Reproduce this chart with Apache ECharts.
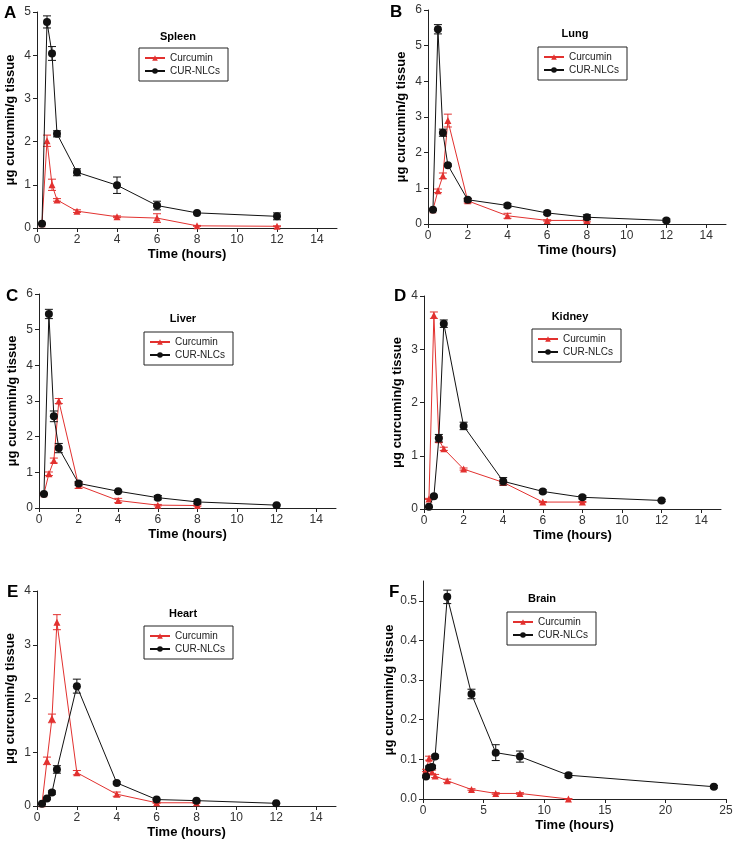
<!DOCTYPE html>
<html><head><meta charset="utf-8">
<script src="https://cdn.jsdelivr.net/npm/echarts@6/dist/echarts.min.js"></script>
<style>html,body{margin:0;padding:0;background:#fff}#c{width:736px;height:845px}</style>
</head><body><div id="c"></div>
<script>
// ---- data ----
const timeMain = [0.25, 0.5, 0.75, 1, 2, 4, 6, 8, 12];
const timeTo8 = [0.25, 0.5, 0.75, 1, 2, 4, 6, 8];
const timeBrainNlc = [0.25, 0.5, 0.75, 1, 2, 4, 6, 8, 12, 24];

const spleenCur = [0.10, 2.02, 1.00, 0.65, 0.39, 0.26, 0.23, 0.05, 0.04];
const spleenCurErr = [0.01, 0.13, 0.13, 0.03, 0.03, 0.02, 0.10, 0.01, 0.01];
const spleenNlc = [0.10, 4.77, 4.04, 2.18, 1.29, 0.99, 0.52, 0.35, 0.27];
const spleenNlcErr = [0.01, 0.14, 0.16, 0.07, 0.08, 0.19, 0.10, 0.02, 0.08];

const lungCur = [0.40, 0.93, 1.35, 2.90, 0.65, 0.23, 0.10, 0.10];
const lungCurErr = [0.02, 0.05, 0.08, 0.18, 0.06, 0.07, 0.02, 0.04];
const lungNlc = [0.40, 5.46, 2.56, 1.65, 0.68, 0.52, 0.31, 0.19, 0.10];
const lungNlcErr = [0.02, 0.13, 0.10, 0.03, 0.04, 0.05, 0.05, 0.07, 0.04];

const liverCur = [0.40, 0.96, 1.33, 3.00, 0.63, 0.21, 0.08, 0.07];
const liverCurErr = [0.02, 0.05, 0.07, 0.07, 0.08, 0.06, 0.02, 0.02];
const liverNlc = [0.39, 5.44, 2.57, 1.68, 0.69, 0.47, 0.29, 0.17, 0.08];
const liverNlcErr = [0.02, 0.13, 0.15, 0.13, 0.05, 0.03, 0.06, 0.05, 0.02];

const kidneyCur = [0.19, 3.64, 1.30, 1.13, 0.75, 0.50, 0.13, 0.13];
const kidneyCurErr = [0.01, 0.06, 0.05, 0.03, 0.02, 0.02, 0.01, 0.01];
const kidneyNlc = [0.04, 0.24, 1.33, 3.48, 1.56, 0.52, 0.33, 0.22, 0.16];
const kidneyNlcErr = [0.01, 0.02, 0.07, 0.07, 0.07, 0.07, 0.03, 0.03, 0.02];

const heartCur = [0.04, 0.84, 1.63, 3.42, 0.62, 0.22, 0.06, 0.06];
const heartCurErr = [0.01, 0.07, 0.08, 0.14, 0.04, 0.04, 0.01, 0.01];
const heartNlc = [0.04, 0.14, 0.25, 0.68, 2.23, 0.43, 0.12, 0.10, 0.05];
const heartNlcErr = [0.01, 0.02, 0.03, 0.07, 0.13, 0.02, 0.01, 0.01, 0.01];

const brainCur = [0.072, 0.103, 0.068, 0.058, 0.046, 0.024, 0.014, 0.014, 0.0];
const brainCurErr = [0.003, 0.005, 0.005, 0.004, 0.004, 0.002, 0.002, 0.002, 0.001];
const brainNlc = [0.057, 0.079, 0.081, 0.107, 0.510, 0.265, 0.117, 0.107, 0.060, 0.031];
const brainNlcErr = [0.003, 0.004, 0.004, 0.004, 0.017, 0.012, 0.020, 0.014, 0.005, 0.003];

const seriesNames = ['Curcumin', 'CUR-NLCs'];
const panelLetters = ['A', 'B', 'C', 'D', 'E', 'F'];
const organNames = ['Spleen', 'Lung', 'Liver', 'Kidney', 'Heart', 'Brain'];
const xLabel = 'Time (hours)';
const yLabel = 'μg curcumin/g tissue';

// ---- layout / style ----
const RED = '#e2312f', BLACK = '#111111';
const FONT = '"Liberation Sans", Arial, sans-serif';
const panels = [
  {grid:{left:37,top:12,width:300,height:216}, xMax:15, xInt:2, yMax:5, yInt:1, dec:0,
   cur:[timeMain, spleenCur, spleenCurErr], nlc:[timeMain, spleenNlc, spleenNlcErr],
   letter:[4,5], title:[178,31], legend:[139,48]},
  {grid:{left:428,top:10,width:298,height:214}, xMax:15, xInt:2, yMax:6, yInt:1, dec:0,
   cur:[timeTo8, lungCur, lungCurErr], nlc:[timeMain, lungNlc, lungNlcErr],
   letter:[390,4], title:[575,28], legend:[538,47]},
  {grid:{left:39,top:294,width:297,height:214}, xMax:15, xInt:2, yMax:6, yInt:1, dec:0,
   cur:[timeTo8, liverCur, liverCurErr], nlc:[timeMain, liverNlc, liverNlcErr],
   letter:[6,288], title:[183,313], legend:[144,332]},
  {grid:{left:424,top:296,width:297,height:213}, xMax:15, xInt:2, yMax:4, yInt:1, dec:0,
   cur:[timeTo8, kidneyCur, kidneyCurErr], nlc:[timeMain, kidneyNlc, kidneyNlcErr],
   letter:[394,288], title:[570,311], legend:[532,329]},
  {grid:{left:37,top:591,width:299,height:215}, xMax:15, xInt:2, yMax:4, yInt:1, dec:0,
   cur:[timeTo8, heartCur, heartCurErr], nlc:[timeMain, heartNlc, heartNlcErr],
   letter:[7,584], title:[183,608], legend:[144,626]},
  {grid:{left:423,top:581,width:303,height:218}, xMax:25, xInt:5, yMax:0.55, yInt:0.1, dec:1,
   cur:[timeMain, brainCur, brainCurErr], nlc:[timeBrainNlc, brainNlc, brainNlcErr],
   letter:[389,584], title:[542,593], legend:[507,612]}
];

function errRender(color) {
  return function (params, api) {
    const x = api.value(0), y = api.value(1), e = api.value(2);
    const top = api.coord([x, y + e]);
    const bot = api.coord([x, y - e]);
    const w = 4;
    const st = {stroke: color, lineWidth: 1};
    return {type: 'group', children: [
      {type: 'line', shape: {x1: top[0], y1: top[1], x2: bot[0], y2: bot[1]}, style: st},
      {type: 'line', shape: {x1: top[0] - w, y1: top[1], x2: top[0] + w, y2: top[1]}, style: st},
      {type: 'line', shape: {x1: bot[0] - w, y1: bot[1], x2: bot[0] + w, y2: bot[1]}, style: st}
    ]};
  };
}

const grid = [], xAxis = [], yAxis = [], series = [], title = [], legend = [];
panels.forEach((p, i) => {
  grid.push(p.grid);
  xAxis.push({type:'value', gridIndex:i, min:0, max:p.xMax, interval:p.xInt,
    name:xLabel, nameLocation:'middle', nameGap:20,
    nameTextStyle:{fontFamily:FONT, fontWeight:'bold', fontSize:13, color:'#000'},
    axisLine:{lineStyle:{color:'#222', width:1}}, axisTick:{length:4, lineStyle:{color:'#222'}},
    axisLabel:{fontFamily:FONT, fontSize:12, color:'#333', showMaxLabel:(p.xMax % p.xInt === 0), margin:6},
    splitLine:{show:false}});
  yAxis.push({type:'value', gridIndex:i, min:0, max:p.yMax, interval:p.yInt,
    name:yLabel, nameLocation:'middle', nameGap:20, nameRotate:90,
    nameTextStyle:{fontFamily:FONT, fontWeight:'bold', fontSize:13, color:'#000'},
    axisLine:{show:true, lineStyle:{color:'#222', width:1}}, axisTick:{show:true, length:4, lineStyle:{color:'#222'}},
    axisLabel:{fontFamily:FONT, fontSize:12, color:'#333', margin:6,
      showMaxLabel: p.dec === 0,
      formatter: v => v.toFixed(p.dec)},
    splitLine:{show:false}});
  const mk = (arr) => arr[0].map((t, k) => [t, arr[1][k], arr[2][k]]);
  const curData = mk(p.cur), nlcData = mk(p.nlc);
  series.push({type:'custom', name:'errCur'+i, xAxisIndex:i, yAxisIndex:i, renderItem:errRender(RED),
    data:curData, encode:{x:0, y:1}, z:2, silent:true});
  series.push({type:'line', name:seriesNames[0], xAxisIndex:i, yAxisIndex:i,
    data:curData.map(d => [d[0], d[1]]), symbol:'triangle', symbolSize:7,
    itemStyle:{color:RED}, lineStyle:{color:RED, width:1}, z:3, animation:false});
  series.push({type:'custom', name:'errNlc'+i, xAxisIndex:i, yAxisIndex:i, renderItem:errRender(BLACK),
    data:nlcData, encode:{x:0, y:1}, z:4, silent:true});
  series.push({type:'line', name:seriesNames[1], xAxisIndex:i, yAxisIndex:i,
    data:nlcData.map(d => [d[0], d[1]]), symbol:'circle', symbolSize:8,
    itemStyle:{color:BLACK}, lineStyle:{color:BLACK, width:1}, z:5, animation:false});
  title.push({text:panelLetters[i], left:p.letter[0], top:p.letter[1], padding:0,
    textStyle:{fontFamily:FONT, fontWeight:'bold', fontSize:17, color:'#000'}});
  title.push({text:organNames[i], left:p.title[0], top:p.title[1], textAlign:'center', padding:0,
    textStyle:{fontFamily:FONT, fontWeight:'bold', fontSize:11, color:'#000'}});
  legend.push({data:seriesNames, left:p.legend[0], top:p.legend[1], orient:'vertical',
    borderColor:'#222', borderWidth:1, padding:[5, 8, 5, 5], itemGap:3,
    itemWidth:20, itemHeight:7, selectedMode:false,
    textStyle:{fontFamily:FONT, fontSize:10, color:'#222'}});
});

const chart = echarts.init(document.getElementById('c'), null, {renderer:'canvas'});
chart.setOption({animation:false, backgroundColor:'#fff', grid, xAxis, yAxis, series, title, legend});
</script>
</body></html>
